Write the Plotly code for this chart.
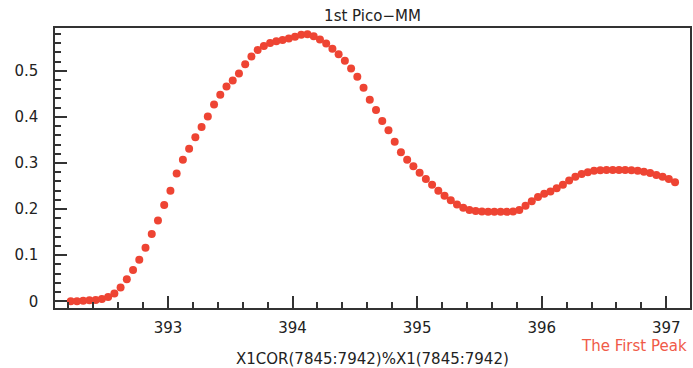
import plotly.graph_objects as go

# Sample positions (X1 channels 7845..7942)
x_vals = [
    392.22, 392.27, 392.32, 392.37, 392.42, 392.47, 392.52, 392.57, 392.62, 392.67,
    392.72, 392.77, 392.82, 392.87, 392.92, 392.97, 393.02, 393.07, 393.12, 393.17,
    393.22, 393.27, 393.32, 393.37, 393.42, 393.47, 393.52, 393.57, 393.62, 393.67,
    393.72, 393.77, 393.82, 393.87, 393.92, 393.97, 394.02, 394.07, 394.12, 394.17,
    394.22, 394.27, 394.32, 394.37, 394.42, 394.47, 394.52, 394.57, 394.62, 394.67,
    394.72, 394.77, 394.82, 394.87, 394.92, 394.97, 395.02, 395.07, 395.12, 395.17,
    395.22, 395.27, 395.32, 395.37, 395.42, 395.47, 395.52, 395.57, 395.62, 395.67,
    395.72, 395.77, 395.82, 395.87, 395.92, 395.97, 396.02, 396.07, 396.12, 396.17,
    396.22, 396.27, 396.32, 396.37, 396.42, 396.47, 396.52, 396.57, 396.62, 396.67,
    396.72, 396.77, 396.82, 396.87, 396.92, 396.97, 397.02, 397.07,
]

# Measured signal (X1COR)
y_vals = [
    0.000, 0.000, 0.001, 0.002, 0.003, 0.005, 0.009, 0.017, 0.030, 0.048,
    0.068, 0.090, 0.116, 0.146, 0.175, 0.209, 0.240, 0.277, 0.307, 0.331,
    0.356, 0.378, 0.401, 0.427, 0.448, 0.466, 0.479, 0.494, 0.514, 0.531,
    0.545, 0.554, 0.560, 0.564, 0.567, 0.570, 0.574, 0.578, 0.579, 0.575,
    0.568, 0.559, 0.548, 0.536, 0.522, 0.505, 0.487, 0.463, 0.437, 0.415,
    0.391, 0.371, 0.346, 0.323, 0.307, 0.293, 0.279, 0.265, 0.253, 0.240,
    0.229, 0.219, 0.210, 0.203, 0.198, 0.196, 0.195, 0.194, 0.194, 0.194,
    0.194, 0.195, 0.198, 0.207, 0.217, 0.226, 0.233, 0.238, 0.245, 0.253,
    0.262, 0.270, 0.276, 0.280, 0.283, 0.284, 0.285, 0.285, 0.285, 0.285,
    0.284, 0.283, 0.281, 0.278, 0.274, 0.270, 0.265, 0.258,
]

title_text = "1st Pico\u2212MM"
x_title = "X1COR(7845:7942)%X1(7845:7942)"
legend_text = "The First Peak"

FONT = "DejaVu Sans"
RED = "#EE4433"
AX = "#333333"

fig = go.Figure()
fig.add_trace(go.Scatter(
    x=x_vals, y=y_vals, mode="markers",
    marker=dict(symbol="circle", size=8, color=RED, line=dict(width=0)),
    showlegend=False, hoverinfo="x+y",
))

axis_common = dict(
    showgrid=False, zeroline=False, showline=True, linecolor=AX, linewidth=1.5,
    mirror=True, ticks="inside", ticklen=12, tickwidth=1.5, tickcolor=AX,
    tickfont=dict(family=FONT, size=15, color="#222222"),
)

fig.update_layout(
    width=693, height=368,
    margin=dict(l=55, r=1, t=28, b=60),
    paper_bgcolor="white", plot_bgcolor="white",
    font=dict(family=FONT, size=15, color="#222222"),
    title=dict(text=title_text, x=0.5, xref="paper", y=1 - 16 / 368, yref="container",
               xanchor="center", yanchor="middle",
               font=dict(family=FONT, size=15, color="#222222")),
    xaxis=dict(range=[392.0936, 397.19], dtick=1, tick0=0, ticklabelstandoff=5,
               minor=dict(dtick=0.2, tick0=0, ticks="inside", ticklen=6, tickwidth=1.5, tickcolor=AX),
               **axis_common),
    yaxis=dict(range=[-0.0146, 0.5928], dtick=0.1, tick0=0, ticklabelstandoff=12,
               minor=dict(dtick=0.02, tick0=0, ticks="inside", ticklen=6, tickwidth=1.5, tickcolor=AX),
               **axis_common),
    annotations=[
        dict(text=x_title, xref="paper", yref="paper", x=0.5, y=0, xanchor="center",
             yanchor="top", yshift=-40, showarrow=False,
             font=dict(family=FONT, size=15, color="#222222")),
        dict(text=legend_text, xref="paper", yref="paper", x=1, y=0, xanchor="right",
             yanchor="middle", xshift=-1, yshift=-38, showarrow=False,
             font=dict(family=FONT, size=15, color="#F05A48")),
    ],
)

fig.write_html("out.html")
